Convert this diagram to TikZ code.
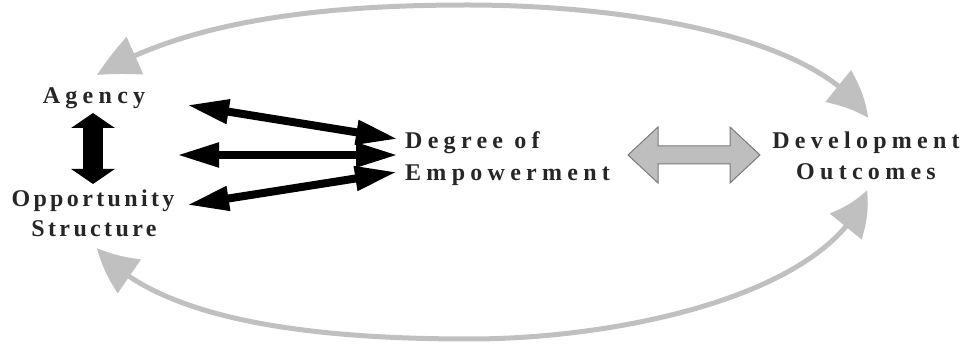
\documentclass[tikz,border=0pt]{standalone}
\usepackage{fontspec}
\setmainfont{Liberation Serif}[LetterSpace=22]
\newfontfamily\tightserif{Liberation Serif}[LetterSpace=14]
\usetikzlibrary{arrows.meta,bending}
\definecolor{arcgray}{HTML}{C0C0C0}
\definecolor{blockfill}{HTML}{BEBEBE}
\definecolor{blockedge}{HTML}{7A7A7A}
\tikzset{
  lbl/.style={font=\fontsize{24}{28}\selectfont\bfseries, text=black!85, inner sep=0pt},
  tightlbl/.style={font=\fontsize{24}{28}\selectfont\tightserif\bfseries, text=black!85, inner sep=0pt},
  blackarr/.style={line width=8pt, {Triangle[length=42pt,width=23pt]}-{Triangle[length=42pt,width=23pt]}},
  vertarr/.style={line width=20pt, {Triangle[length=15pt,width=43pt]}-{Triangle[length=15pt,width=43pt]}},
  grayarc/.style={draw=arcgray, line width=5pt, {Triangle[length=42pt,width=40pt,bend]}-{Triangle[length=42pt,width=40pt,bend]}},
  blockarr/.style={fill=blockfill, draw=blockedge, line width=1pt, line join=miter}
}
\begin{document}
\begin{tikzpicture}[x=1pt,y=-1pt]
\useasboundingbox (0,0) rectangle (964,347);
% labels
\node[lbl, anchor=base] (agency) at (94,104) {Agency};
\node[tightlbl, anchor=base] (opp) at (93,207) {Opportunity};
\node[tightlbl, anchor=base] (struct) at (94,237) {Structure};
\node[lbl, anchor=base west] (deg) at (405,149) {Degree of};
\node[lbl, anchor=base west] (emp) at (405,181) {Empowerment};
\node[lbl, anchor=base] (dev) at (866,149) {Development};
\node[lbl, anchor=base] (out) at (866,180) {Outcomes};
% connector end points
\coordinate (va) at (93,113);
\coordinate (vb) at (93,184);
\coordinate (a1) at (187,105);
\coordinate (b1) at (398,139);
\coordinate (a2) at (177,155);
\coordinate (b2) at (398,155);
\coordinate (a3) at (187,205);
\coordinate (b3) at (397,172);
\coordinate (tl) at (97,75);
\coordinate (tr) at (868,118);
\coordinate (bl) at (97,248);
\coordinate (br) at (867,190);
% black arrows
\draw[vertarr] (va) -- (vb);
\draw[blackarr] (a1) -- (b1);
\draw[blackarr] (a2) -- (b2);
\draw[blackarr] (a3) -- (b3);
% gray block double arrow
\coordinate (gl) at (628,155);
\coordinate (gr) at (760,155);
\draw[blockarr] (gl) -- ++(30,-28) -- ++(0,19) -- ++(72,0) -- ++(0,-19) -- (gr)
  -- ++(-30,28) -- ++(0,-19) -- ++(-72,0) -- ++(0,19) -- cycle;
% gray arcs
\draw[grayarc] (tl) .. controls (190.6,19.4) and (327,5) .. (467,5)
  .. controls (617,5) and (815,33) .. (tr);
\draw[grayarc] (bl) .. controls (161,325) and (330,339) .. (470,339)
  .. controls (620,339) and (831.8,294.5) .. (br);
\end{tikzpicture}
\end{document}
